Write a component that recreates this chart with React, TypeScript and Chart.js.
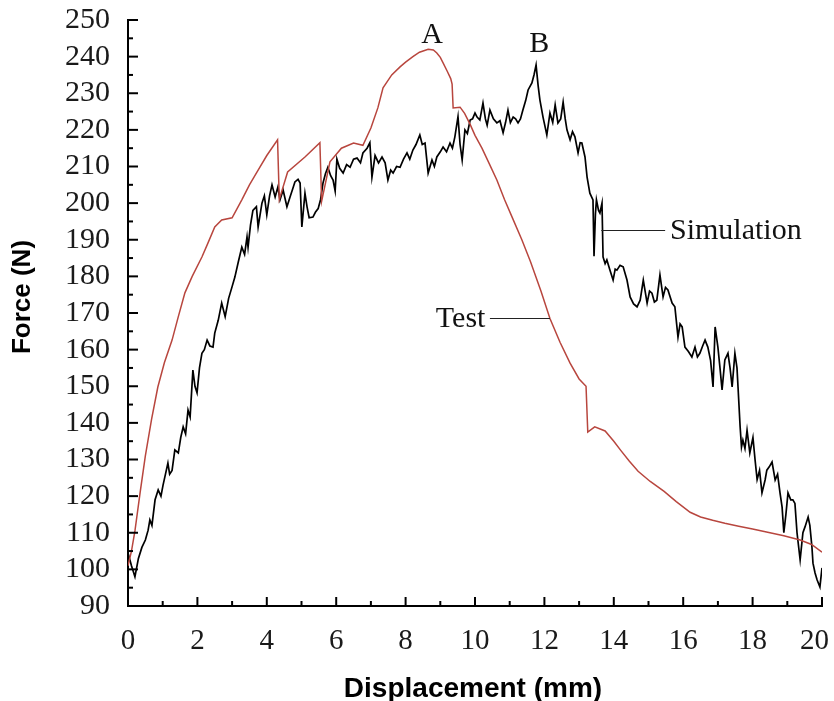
import React, { useEffect, useRef } from 'react';
import { Chart, registerables } from 'chart.js';

Chart.register(...registerables);

// Test curve (red)
const testDisp = [0, 0.1, 0.2, 0.35, 0.5, 0.68, 0.86, 1.05, 1.27, 1.45, 1.64, 1.85, 2.13, 2.3, 2.5, 2.7, 3.0, 3.28, 3.5, 3.75, 4.0, 4.31, 4.36, 4.6, 5.1, 5.53, 5.58, 5.82, 6.15, 6.5, 6.77, 7.0, 7.2, 7.35, 7.6, 7.84, 8.0, 8.21, 8.4, 8.65, 8.8, 8.9, 9.0, 9.08, 9.2, 9.3, 9.34, 9.37, 9.57, 9.7, 9.86, 10.0, 10.2, 10.4, 10.63, 10.85, 11.1, 11.35, 11.6, 11.9, 12.16, 12.45, 12.74, 13.0, 13.2, 13.25, 13.45, 13.75, 14.0, 14.2, 14.45, 14.7, 15.05, 15.45, 15.8, 16.2, 16.5, 16.85, 17.2, 17.6, 18.0, 18.4, 18.9, 19.37, 19.7, 20];
const testForce = [101, 105, 110.5, 121, 131, 141, 149.8, 156.5, 162.6, 169, 175.5, 180, 185.3, 189, 193.5, 195.4, 196, 200.9, 205, 209, 213, 217.3, 201, 208.5, 212.6, 216.5, 200.5, 211.3, 215, 216.4, 215.8, 220.5, 226, 231.5, 235, 237.2, 238.5, 240, 241.2, 242, 241.8, 241, 239.8, 238.3, 236, 234, 232.5, 226, 226.2, 224.5, 221.5, 218.5, 215, 211, 206.3, 201, 195.5, 190, 184, 176, 168.5, 162, 156.3, 152, 150, 137.5, 138.9, 137.8, 135, 132.5, 129.5, 126.8, 124, 121.3, 118.5, 115.6, 114.3, 113.4, 112.6, 111.8, 111, 110.2, 109.2, 108, 106.8, 104.7];

// Simulation curve (black)
const simDisp = [0.0, 0.1, 0.2, 0.3, 0.4, 0.5, 0.58, 0.63, 0.69, 0.78, 0.87, 0.95, 1.01, 1.08, 1.15, 1.2, 1.27, 1.35, 1.45, 1.52, 1.59, 1.66, 1.73, 1.79, 1.83, 1.87, 1.93, 1.99, 2.06, 2.13, 2.2, 2.28, 2.36, 2.45, 2.5, 2.6, 2.7, 2.8, 2.9, 3.0, 3.08, 3.18, 3.28, 3.36, 3.43, 3.46, 3.53, 3.6, 3.7, 3.75, 3.86, 3.93, 4.0, 4.08, 4.15, 4.24, 4.32, 4.38, 4.47, 4.58, 4.67, 4.75, 4.81, 4.9, 4.96, 5.01, 5.1, 5.16, 5.22, 5.33, 5.4, 5.48, 5.55, 5.62, 5.69, 5.76, 5.84, 5.91, 5.97, 6.02, 6.1, 6.2, 6.3, 6.4, 6.5, 6.6, 6.7, 6.77, 6.89, 6.97, 7.03, 7.12, 7.22, 7.32, 7.41, 7.49, 7.57, 7.64, 7.74, 7.84, 7.94, 8.04, 8.12, 8.21, 8.3, 8.41, 8.48, 8.56, 8.65, 8.76, 8.83, 8.9, 9.0, 9.08, 9.18, 9.28, 9.35, 9.42, 9.51, 9.57, 9.63, 9.71, 9.78, 9.86, 9.93, 10.0, 10.06, 10.14, 10.23, 10.3, 10.35, 10.43, 10.53, 10.63, 10.72, 10.81, 10.88, 10.95, 11.02, 11.1, 11.17, 11.24, 11.31, 11.38, 11.46, 11.53, 11.64, 11.7, 11.76, 11.82, 11.87, 11.96, 12.07, 12.16, 12.24, 12.31, 12.39, 12.47, 12.54, 12.6, 12.65, 12.74, 12.81, 12.88, 12.97, 13.03, 13.08, 13.17, 13.23, 13.31, 13.4, 13.43, 13.47, 13.5, 13.56, 13.6, 13.66, 13.69, 13.75, 13.8, 13.89, 13.98, 14.04, 14.09, 14.18, 14.27, 14.38, 14.47, 14.57, 14.67, 14.76, 14.85, 14.96, 15.03, 15.1, 15.17, 15.24, 15.33, 15.42, 15.49, 15.56, 15.68, 15.76, 15.85, 15.91, 15.97, 16.05, 16.15, 16.25, 16.34, 16.41, 16.48, 16.56, 16.63, 16.71, 16.79, 16.86, 16.92, 17.0, 17.06, 17.12, 17.2, 17.29, 17.35, 17.41, 17.49, 17.55, 17.58, 17.64, 17.68, 17.72, 17.78, 17.84, 17.92, 18.01, 18.07, 18.13, 18.2, 18.27, 18.36, 18.41, 18.48, 18.56, 18.65, 18.72, 18.79, 18.85, 18.9, 18.96, 19.02, 19.1, 19.16, 19.22, 19.28, 19.37, 19.45, 19.51, 19.6, 19.65, 19.71, 19.74, 19.8, 19.86, 19.94, 20.0];
const simForce = [104.5, 101, 98, 103, 106, 108, 110.7, 113.5, 112, 119, 121.7, 120, 123, 126, 129, 126, 127, 132.6, 131.8, 136, 138.9, 137, 143.5, 141.6, 148, 154.4, 150, 148.2, 155, 159, 160, 162.6, 161, 160.7, 164.5, 168, 172.7, 169, 174, 177.2, 179.8, 184, 188, 186, 190.8, 188, 194, 198, 199, 193.5, 200, 202, 196.8, 202, 205, 201.7, 204.4, 200.9, 203.6, 199, 201.7, 204, 205.8, 206.5, 205.5, 193.5, 202.7, 199, 196, 196.2, 197.5, 198.5, 201, 205.5, 208, 209.8, 207.5, 206.3, 203.3, 212, 209.5, 208.2, 210.5, 209.8, 212, 212.3, 211, 213.7, 215, 216.5, 207.1, 213, 211, 212.6, 211, 206.3, 209, 208.2, 210, 209.8, 212, 213.7, 212, 214.5, 216, 218.6, 216, 216.4, 208.2, 211.8, 210, 212.6, 214, 215.3, 214, 216.4, 215, 218.1, 223.6, 216, 211.8, 220, 219, 222.7, 223, 224.6, 223.5, 222.7, 227.3, 223, 221.3, 225.4, 223, 221.9, 222.5, 219.2, 222, 225.4, 222, 223.5, 223, 221.9, 223, 225.4, 228, 230.9, 232.8, 235, 237.7, 232, 228.2, 223.5, 218.6, 224.6, 222, 226.8, 221.9, 223, 227.6, 223, 220, 217.3, 219.5, 218.1, 213.7, 216.5, 216.4, 212.6, 207.1, 202.7, 200.9, 185.5, 197, 200.9, 198, 197.3, 200, 185.3, 183.5, 184.5, 181.7, 179, 182, 181.7, 183, 182.6, 179, 174.4, 172.5, 171.7, 173.5, 179, 172.7, 176, 175.4, 173, 173.5, 180.4, 174.4, 177, 176.3, 172.7, 171.7, 163.4, 167, 166.2, 160.7, 159.5, 158, 160.7, 158, 159, 161, 162.6, 160.7, 157, 149.8, 166.2, 160.7, 155, 149, 157.2, 159, 155, 149.8, 159, 155, 149.8, 139, 133.4, 135.3, 133, 138, 131.8, 136, 130, 124.5, 127, 120.9, 124.4, 127.1, 128, 129.3, 124.4, 126, 120.9, 117, 110, 115, 120.9, 119, 119, 118, 110, 102.6, 110, 111.6, 114.3, 112, 106.1, 101.7, 99, 97.1, 95.2, 100.4];

const xMin = 0;
const xMax = 20;
const xStep = 2;
const yMin = 90;
const yMax = 250;
const yStep = 10;

// Annotations (data coordinates)
const peakLabels = [
  { text: 'A', x: 8.76, y: 243.7 },
  { text: 'B', x: 11.85, y: 241.2 },
];
const simLabel = { text: 'Simulation', x0: 13.64, x1: 15.48, y: 192.6, tx: 15.62 };
const testLabel = { text: 'Test', x0: 10.43, x1: 12.16, y: 168.5, tx: 10.3 };

const SERIF = '"Liberation Serif", "Times New Roman", serif';
const SANS = '"Liberation Sans", Arial, sans-serif';

const decor = {
  id: 'decor',
  afterDraw(chart: any) {
    const { ctx } = chart;
    const x = chart.scales.x;
    const y = chart.scales.y;
    ctx.save();
    ctx.strokeStyle = '#000';
    ctx.lineWidth = 2;
    // y ticks (inward)
    for (let v = yMin; v <= yMax; v += yStep / 2) {
      const py = y.getPixelForValue(v);
      const len = (v - yMin) % yStep === 0 ? 10 : 5;
      ctx.beginPath();
      ctx.moveTo(x.left, py);
      ctx.lineTo(x.left + len, py);
      ctx.stroke();
    }
    // x ticks (inward)
    for (let v = xMin; v <= xMax; v += xStep / 2) {
      const px = x.getPixelForValue(v);
      const len = (v - xMin) % xStep === 0 ? 9 : 5;
      ctx.beginPath();
      ctx.moveTo(px, y.bottom);
      ctx.lineTo(px, y.bottom - len);
      ctx.stroke();
    }
    // x tick labels (kept inside the canvas at the right edge)
    ctx.fillStyle = '#1a1a1a';
    ctx.font = '29px ' + SERIF;
    ctx.textAlign = 'center';
    ctx.textBaseline = 'middle';
    const cw = chart.width;
    for (const t of x.ticks) {
      const label = String(t.value);
      const w = ctx.measureText(label).width;
      let px = x.getPixelForValue(t.value);
      if (px + w / 2 > cw - 5) px = cw - 5 - w / 2;
      ctx.fillText(label, px, y.bottom + 35);
    }
    // annotation text
    ctx.fillStyle = '#111';
    ctx.font = '30px ' + SERIF;
    ctx.textBaseline = 'alphabetic';
    ctx.textAlign = 'center';
    for (const p of peakLabels) {
      ctx.fillText(p.text, x.getPixelForValue(p.x), y.getPixelForValue(p.y));
    }
    ctx.lineWidth = 1;
    ctx.strokeStyle = '#222';
    // Simulation leader
    let py = Math.round(y.getPixelForValue(simLabel.y)) + 0.5;
    ctx.beginPath();
    ctx.moveTo(x.getPixelForValue(simLabel.x0), py);
    ctx.lineTo(x.getPixelForValue(simLabel.x1), py);
    ctx.stroke();
    ctx.textAlign = 'left';
    ctx.textBaseline = 'middle';
    ctx.fillText(simLabel.text, x.getPixelForValue(simLabel.tx), py + 1);
    // Test leader
    py = Math.round(y.getPixelForValue(testLabel.y)) + 0.5;
    ctx.beginPath();
    ctx.moveTo(x.getPixelForValue(testLabel.x0), py);
    ctx.lineTo(x.getPixelForValue(testLabel.x1), py);
    ctx.stroke();
    ctx.textAlign = 'right';
    ctx.fillText(testLabel.text, x.getPixelForValue(testLabel.tx), py + 1);
    // axis titles
    ctx.fillStyle = '#000';
    ctx.textAlign = 'center';
    ctx.textBaseline = 'middle';
    ctx.font = 'bold 28px ' + SANS;
    ctx.fillText('Displacement (mm)', 473, 689);
    ctx.font = 'bold 26px ' + SANS;
    ctx.translate(23, 297);
    ctx.rotate(-Math.PI / 2);
    ctx.fillText('Force (N)', 0, 0);
    ctx.restore();
  },
};

export default function App() {
  const ref = useRef<HTMLCanvasElement | null>(null);
  useEffect(() => {
    document.body.style.margin = '0';
    const canvas = ref.current;
    if (!canvas) return;
    const chart = new Chart(canvas, {
      type: 'line',
      data: {
        datasets: [
          {
            label: 'Test',
            data: testDisp.map((d, i) => ({ x: d, y: testForce[i] })),
            borderColor: '#b8463e',
            borderWidth: 1.5,
            pointRadius: 0,
            tension: 0,
            fill: false,
          },
          {
            label: 'Simulation',
            data: simDisp.map((d, i) => ({ x: d, y: simForce[i] })),
            borderColor: '#000',
            borderWidth: 1.7,
            pointRadius: 0,
            tension: 0,
            fill: false,
          },
        ],
      },
      options: {
        responsive: false,
        animation: false,
        layout: { padding: { top: 20, right: 12, left: 0, bottom: 0 } },
        plugins: { legend: { display: false }, tooltip: { enabled: false } },
        scales: {
          x: {
            type: 'linear',
            min: xMin,
            max: xMax,
            grid: { display: false, drawTicks: false },
            border: { display: true, color: '#000', width: 2 },
            ticks: {
              display: false,
              stepSize: xStep,
              autoSkip: false,
              maxRotation: 0,
            },
            afterFit: (s: any) => {
              s.height = 95;
              s.paddingLeft = 0;
              s.paddingRight = 0;
            },
          },
          y: {
            type: 'linear',
            min: yMin,
            max: yMax,
            grid: { display: false, drawTicks: false },
            border: { display: true, color: '#000', width: 2 },
            ticks: {
              stepSize: yStep,
              autoSkip: false,
              padding: 18,
              color: '#1a1a1a',
              font: { family: SERIF, size: 30 },
            },
            afterFit: (s: any) => {
              s.width = 128;
              s.paddingTop = 0;
              s.paddingBottom = 0;
            },
          },
        },
      },
      plugins: [decor],
    });
    return () => chart.destroy();
  }, []);
  return (
    <div style={{ position: 'fixed', left: 0, top: 0, width: 834, height: 701, background: '#fff' }}>
      <canvas ref={ref} width={834} height={701} style={{ display: 'block' }} />
    </div>
  );
}
